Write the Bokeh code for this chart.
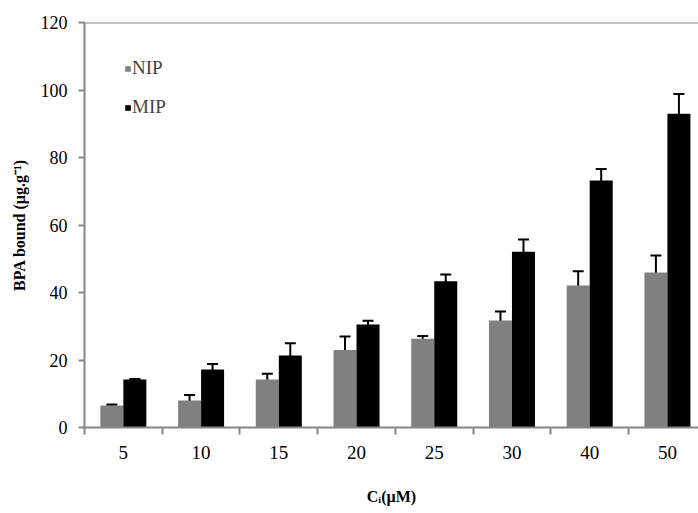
from bokeh.plotting import figure
from bokeh.models import (ColumnDataSource, Range1d, FixedTicker, Whisker, TeeHead,
                          Legend, LegendItem, Span)
from bokeh.embed import file_html
from bokeh.resources import INLINE

categories = ["5", "10", "15", "20", "25", "30", "40", "50"]
nip = [6.5, 8.0, 14.2, 23.0, 26.3, 31.7, 42.1, 45.9]
nip_err = [0.3, 1.6, 1.7, 4.0, 0.8, 2.7, 4.2, 5.1]
mip = [14.2, 17.2, 21.3, 30.5, 43.3, 52.1, 73.2, 93.0]
mip_err = [0.2, 1.6, 3.7, 1.1, 2.0, 3.6, 3.4, 5.8]
y_ticks = [0, 20, 40, 60, 80, 100, 120]

FONT = "Liberation Serif"
AXIS_GRAY = "#868686"
off = 0.148
bw = 0.296

centers = [i + 0.5 for i in range(len(categories))]
nip_x = [c - off for c in centers]
mip_x = [c + off for c in centers]

src_nip = ColumnDataSource(dict(x=nip_x, top=nip,
                                up=[v + e for v, e in zip(nip, nip_err)],
                                lo=[v - e for v, e in zip(nip, nip_err)]))
src_mip = ColumnDataSource(dict(x=mip_x, top=mip,
                                up=[v + e for v, e in zip(mip, mip_err)],
                                lo=[v - e for v, e in zip(mip, mip_err)]))

p = figure(width=698, height=513, output_backend="svg", toolbar_location=None,
           x_range=Range1d(0, 7.90), y_range=Range1d(0, 120),
           min_border_left=84, min_border_right=0, min_border_top=22, min_border_bottom=86)
p.outline_line_color = None
p.xgrid.visible = False
p.ygrid.visible = False
p.background_fill_color = "white"
p.border_fill_color = "white"

r_nip = p.vbar(x="x", top="top", width=bw, source=src_nip, fill_color="#808080", line_color=None)
r_mip = p.vbar(x="x", top="top", width=bw, source=src_mip, fill_color="#000000", line_color=None)

for src in (src_nip, src_mip):
    w = Whisker(source=src, base="x", upper="up", lower="lo", line_color="black", line_width=2,
                upper_head=TeeHead(size=11, line_color="black", line_width=2),
                lower_head=TeeHead(size=11, line_color="black", line_width=2))
    p.add_layout(w)

# top border line
p.add_layout(Span(location=120, dimension="width", line_color=AXIS_GRAY, line_width=2))

# y axis
yax = p.yaxis[0]
yax.ticker = FixedTicker(ticks=y_ticks)
yax.axis_line_color = AXIS_GRAY
yax.axis_line_width = 2
yax.major_tick_line_color = AXIS_GRAY
yax.major_tick_line_width = 2
yax.major_tick_in = 0
yax.major_tick_out = 6
yax.minor_tick_line_color = None
yax.major_label_text_font = FONT
yax.major_label_text_font_size = "18px"
yax.major_label_text_color = "black"
yax.major_label_standoff = 11
yax.axis_label = "BPA bound (µg.g⁻¹)"
yax.axis_label_text_font = FONT
yax.axis_label_text_font_size = "16px"
yax.axis_label_text_font_style = "bold"
yax.axis_label_text_color = "black"
yax.axis_label_standoff = 10

# x axis: labels at category centers, ticks at boundaries (minor)
xax = p.xaxis[0]
xax.ticker = FixedTicker(ticks=centers, minor_ticks=list(range(len(categories) + 1)))
xax.major_label_overrides = {c: lab for c, lab in zip(centers, categories)}
xax.axis_line_color = AXIS_GRAY
xax.axis_line_width = 2
xax.major_tick_line_color = None
xax.minor_tick_line_color = AXIS_GRAY
xax.minor_tick_line_width = 2
xax.minor_tick_in = 0
xax.minor_tick_out = 7
xax.major_label_text_font = FONT
xax.major_label_text_font_size = "19px"
xax.major_label_text_color = "black"
xax.major_label_standoff = 11
xax.axis_label = "Cᵢ(µM)"
xax.axis_label_text_font = FONT
xax.axis_label_text_font_size = "16px"
xax.axis_label_text_font_style = "bold"
xax.axis_label_text_color = "black"
xax.axis_label_standoff = 26

legend = Legend(items=[LegendItem(label="NIP", renderers=[r_nip]),
                       LegendItem(label="MIP", renderers=[r_mip])],
                location=(40, 309), orientation="vertical",
                glyph_width=7, glyph_height=7, label_standoff=1, spacing=17,
                padding=0, margin=0, border_line_color=None, background_fill_alpha=0,
                label_text_font=FONT, label_text_font_size="19px", label_height=22)
p.add_layout(legend)

open("out.html", "w").write(file_html(p, INLINE))
